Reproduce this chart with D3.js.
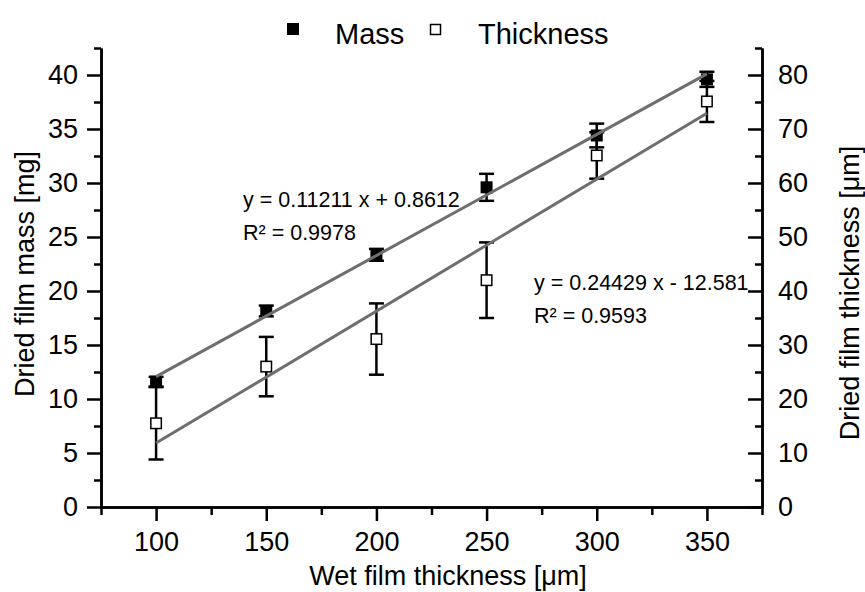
<!DOCTYPE html>
<html>
<head>
<meta charset="utf-8">
<script src="https://cdn.jsdelivr.net/npm/d3@7"></script>
<style>
  html, body { margin: 0; padding: 0; background: #fff; }
  svg { display: block; font-family: "Liberation Sans", Arial, sans-serif; }
</style>
</head>
<body>
<svg id="chart" width="865" height="592"></svg>
<script>
// Wet film thickness (µm) of each cast film
const wetThickness = [100, 150, 200, 250, 300, 350];

// Dried film mass (mg) with standard deviation
const massValues = [11.6, 18.15, 23.35, 29.6, 34.4, 39.6];
const massErrors = [0.45, 0.5, 0.55, 1.25, 1.1, 0.7];

// Dried film thickness (µm) with standard deviation
const thicknessValues = [15.5, 26.0, 31.1, 42.0, 65.1, 75.1];
const thicknessErrors = [6.7, 5.5, 6.6, 7.0, 4.3, 3.8];

// Linear fits: mass (left axis) and thickness (right axis)
const fitSlopes = [0.11211, 0.24429];
const fitIntercepts = [0.8612, -12.581];
const fitR2 = ["0.9978", "0.9593"];

// Axis ticks
const xMajorTicks = [100, 150, 200, 250, 300, 350];
const xMinorTicks = [75, 125, 175, 225, 275, 325, 375];
const leftMajorTicks = [0, 5, 10, 15, 20, 25, 30, 35, 40];
const leftMinorTicks = [2.5, 7.5, 12.5, 17.5, 22.5, 27.5, 32.5, 37.5, 42.5];
const rightMajorTicks = [0, 10, 20, 30, 40, 50, 60, 70, 80];
const rightMinorTicks = [5, 15, 25, 35, 45, 55, 65, 75, 85];

const svg = d3.select("#chart");

const x = d3.scaleLinear().domain([75, 375]).range([101, 762]);
const yL = d3.scaleLinear().domain([0, 42.5]).range([507, 48]);
const yR = d3.scaleLinear().domain([0, 85]).range([507, 48]);

const tickFont = 27;
const axisStroke = 2.5;

function styleAxis(g) {
  g.selectAll("path.domain").attr("stroke", "#000").attr("stroke-width", axisStroke);
  g.selectAll(".tick line").attr("stroke", "#000").attr("stroke-width", axisStroke);
  g.selectAll(".tick text").attr("fill", "#000").attr("font-size", tickFont)
    .attr("font-family", "'Liberation Sans', Arial, sans-serif");
}

// Bottom axis
const gx = svg.append("g").attr("transform", `translate(0,${yL(0)})`);
gx.append("g").call(d3.axisBottom(x).tickValues(xMinorTicks).tickSize(8).tickSizeOuter(0).tickFormat(""))
  .call(styleAxis);
gx.append("g").call(d3.axisBottom(x).tickValues(xMajorTicks).tickSize(14).tickSizeOuter(0).tickPadding(11))
  .call(styleAxis);

// Left axis (mass)
const gl = svg.append("g").attr("transform", `translate(${x(75)},0)`);
gl.append("g").call(d3.axisLeft(yL).tickValues(leftMinorTicks).tickSize(7).tickSizeOuter(0).tickFormat(""))
  .call(styleAxis);
gl.append("g").call(d3.axisLeft(yL).tickValues(leftMajorTicks).tickSize(14).tickSizeOuter(0).tickPadding(9))
  .call(styleAxis);

// Right axis (thickness), ticks pointing into the plot
const gr = svg.append("g").attr("transform", `translate(${x(375)},0)`);
gr.append("g").call(d3.axisRight(yR).tickValues(rightMinorTicks).tickSize(-7).tickSizeOuter(0).tickFormat(""))
  .call(styleAxis);
gr.append("g").call(d3.axisRight(yR).tickValues(rightMajorTicks).tickSize(-14).tickSizeOuter(0).tickPadding(16))
  .call(styleAxis);

// Axis titles
svg.append("text")
  .attr("transform", `translate(34,274) rotate(-90)`)
  .attr("text-anchor", "middle").attr("font-size", 27)
  .text("Dried film mass [mg]");
svg.append("text")
  .attr("transform", `translate(859,293) rotate(-90)`)
  .attr("text-anchor", "middle").attr("font-size", 27)
  .text("Dried film thickness [μm]");
svg.append("text")
  .attr("x", 448).attr("y", 585)
  .attr("text-anchor", "middle").attr("font-size", 27)
  .text("Wet film thickness [μm]");

const capHalf = 7.5;
const markerSize = 12;

function drawSeries(values, errors, yScale, filled) {
  const g = svg.append("g");
  const bars = g.selectAll("g.err").data(wetThickness.map((w, i) => ({ w, v: values[i], e: errors[i] })))
    .join("g").attr("class", "err")
    .attr("stroke", "#000").attr("stroke-width", 2.5);
  bars.append("line")
    .attr("x1", d => x(d.w)).attr("x2", d => x(d.w))
    .attr("y1", d => yScale(d.v + d.e)).attr("y2", d => yScale(d.v - d.e));
  bars.append("line")
    .attr("x1", d => x(d.w) - capHalf).attr("x2", d => x(d.w) + capHalf)
    .attr("y1", d => yScale(d.v + d.e)).attr("y2", d => yScale(d.v + d.e));
  bars.append("line")
    .attr("x1", d => x(d.w) - capHalf).attr("x2", d => x(d.w) + capHalf)
    .attr("y1", d => yScale(d.v - d.e)).attr("y2", d => yScale(d.v - d.e));
  g.selectAll("rect").data(wetThickness.map((w, i) => ({ w, v: values[i] })))
    .join("rect")
    .attr("x", d => x(d.w) - markerSize / 2 + (filled ? 0 : 0.75))
    .attr("y", d => yScale(d.v) - markerSize / 2 + (filled ? 0 : 0.75))
    .attr("width", filled ? markerSize : markerSize - 1.5)
    .attr("height", filled ? markerSize : markerSize - 1.5)
    .attr("fill", filled ? "#000" : "#fff")
    .attr("stroke", "#000").attr("stroke-width", filled ? 0 : 1.5);
}

drawSeries(thicknessValues, thicknessErrors, yR, false);
drawSeries(massValues, massErrors, yL, true);

// Fitted lines over the measured range
const fitScales = [yL, yR];
const xFit = d3.extent(wetThickness);
fitSlopes.forEach((m, i) => {
  const b = fitIntercepts[i];
  svg.append("line")
    .attr("x1", x(xFit[0])).attr("y1", fitScales[i](m * xFit[0] + b))
    .attr("x2", x(xFit[1])).attr("y2", fitScales[i](m * xFit[1] + b))
    .attr("stroke", "#6e6e6e").attr("stroke-width", 3);
});

// Fit equations
function fmtEq(m, b) {
  return `y = ${m} x ${b < 0 ? "-" : "+"} ${Math.abs(b)}`;
}
const eqPos = [[243, 206.5], [534, 290]];
fitSlopes.forEach((m, i) => {
  const [ex, ey] = eqPos[i];
  svg.append("text").attr("x", ex).attr("y", ey).attr("font-size", 21.5)
    .text(fmtEq(m, fitIntercepts[i]));
  svg.append("text").attr("x", ex).attr("y", ey + 33).attr("font-size", 21.5)
    .text(`R² = ${fitR2[i]}`);
});

// Legend
const legend = svg.append("g");
legend.append("rect").attr("x", 287).attr("y", 23).attr("width", 12).attr("height", 12).attr("fill", "#000");
legend.append("text").attr("x", 335).attr("y", 43.5).attr("font-size", 29).text("Mass");
legend.append("rect").attr("x", 430.5).attr("y", 24.5).attr("width", 10).attr("height", 10)
  .attr("fill", "#fff").attr("stroke", "#000").attr("stroke-width", 1.5);
legend.append("text").attr("x", 478).attr("y", 43.5).attr("font-size", 29).text("Thickness");
</script>
</body>
</html>
